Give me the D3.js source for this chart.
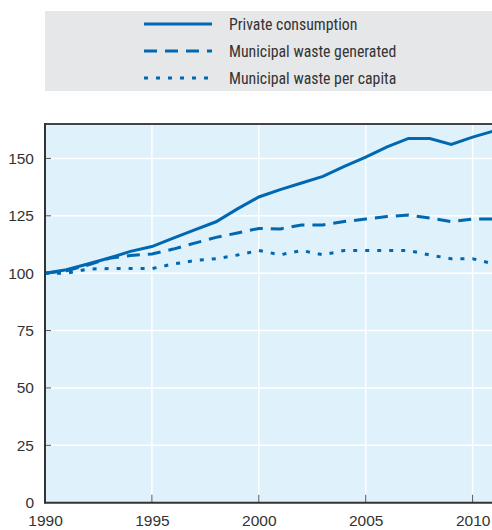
<!DOCTYPE html>
<html><head><meta charset="utf-8">
<script src="https://cdn.jsdelivr.net/npm/d3@7"></script>
<style>
html,body{margin:0;padding:0;background:#fff;}
svg{display:block;font-family:"Liberation Sans Narrow","Arial Narrow","Roboto Condensed",sans-serif;}
</style></head>
<body><svg id="c" width="492" height="530"></svg>
<script>
const years = d3.range(1990, 2012);
const privateConsumption = [100,101.5,104,106.6,109.5,111.6,115.3,118.9,122.4,128,133.2,136.4,139.3,142.2,146.5,150.6,155,158.7,158.7,156.1,159.3,162];
const wasteGenerated = [100,101,103.5,106.5,107.7,108.4,110.5,113.1,115.6,117.5,119.5,119.3,121,121,122.5,123.6,124.7,125.3,124,122.5,123.6,123.6];
const wastePerCapita = [100,100,101.8,102,102,102,104,105.5,106.3,107.9,109.9,108,109.9,108,109.9,109.9,109.9,109.9,107.9,106.3,106.3,104];
const seriesNames = ["Private consumption","Municipal waste generated","Municipal waste per capita"];
const xTicks = [1990,1995,2000,2005,2010];
const yTicks = [0,25,50,75,100,125,150];

const svg = d3.select("#c");
const color = "#0068b0";
const dashes = [null, "13,8", "4,8"];
const L = 45, R = 494, T = 124, B = 502.7;
const txt = "#333";

// legend
svg.append("rect").attr("x",45).attr("y",11).attr("width",460).attr("height",80).attr("fill","#e6e7e8");
seriesNames.forEach((n,i)=>{
  const y = 24 + i*27;
  svg.append("line").attr("x1",144).attr("x2",212).attr("y1",y).attr("y2",y)
    .attr("stroke",color).attr("stroke-width",3).attr("stroke-dasharray",dashes[i]);
  svg.append("text").attr("x",229).attr("y",y).attr("dy","0.36em")
    .attr("font-size",15.8).attr("fill",txt).text(n);
});

const x = d3.scaleLinear().domain([1990,2011]).range([L,R]);
const y = d3.scaleLinear().domain([0,165]).range([B,T]);

svg.append("rect").attr("x",L).attr("y",T).attr("width",R-L).attr("height",B-T).attr("fill","#dff1fb");

// grid
svg.append("g").selectAll("line").data(yTicks.filter(d=>d>0)).join("line")
  .attr("x1",L).attr("x2",R).attr("y1",d=>y(d)).attr("y2",d=>y(d)).attr("stroke","#fff").attr("stroke-width",1.5);
svg.append("g").selectAll("line").data(xTicks.filter(d=>d>1990)).join("line")
  .attr("y1",T).attr("y2",B).attr("x1",d=>x(d)).attr("x2",d=>x(d)).attr("stroke","#fff").attr("stroke-width",1.5);

// axes
const yAxis = svg.append("g").attr("transform",`translate(${L},0)`)
  .call(d3.axisLeft(y).tickValues(yTicks).tickSize(0).tickPadding(11));
yAxis.select(".domain").remove();
yAxis.selectAll("text").attr("font-size",15.5).attr("fill",txt).attr("font-family",null);
svg.append("g").selectAll("line").data(yTicks.filter(d=>d>0)).join("line")
  .attr("x1",L).attr("x2",L+6).attr("y1",d=>y(d)).attr("y2",d=>y(d)).attr("stroke","#555").attr("stroke-width",1);

const xAxis = svg.append("g").attr("transform",`translate(0,${B})`)
  .call(d3.axisBottom(x).tickValues(xTicks).tickFormat(d3.format("d")).tickSize(0).tickPadding(12));
xAxis.select(".domain").remove();
xAxis.selectAll("text").attr("font-size",15.5).attr("fill",txt).attr("font-family",null);
svg.append("g").selectAll("line").data(xTicks.filter(d=>d>1990)).join("line")
  .attr("x1",d=>x(d)).attr("x2",d=>x(d)).attr("y1",B).attr("y2",B-8).attr("stroke","#555").attr("stroke-width",1);

// lines
const line = d3.line().x((d,i)=>x(years[i])).y(d=>y(d));
[privateConsumption, wasteGenerated, wastePerCapita].forEach((s,i)=>{
  svg.append("path").datum(s).attr("d",line).attr("fill","none").attr("stroke",color)
    .attr("stroke-width",3).attr("stroke-dasharray",dashes[i]);
});

// frame
svg.append("line").attr("x1",L).attr("x2",R).attr("y1",T).attr("y2",T).attr("stroke","#444").attr("stroke-width",2);
svg.append("line").attr("x1",L).attr("x2",L).attr("y1",T-1).attr("y2",B+1).attr("stroke","#333").attr("stroke-width",2);
svg.append("line").attr("x1",L).attr("x2",R).attr("y1",B).attr("y2",B).attr("stroke","#333").attr("stroke-width",2);
</script></body></html>
